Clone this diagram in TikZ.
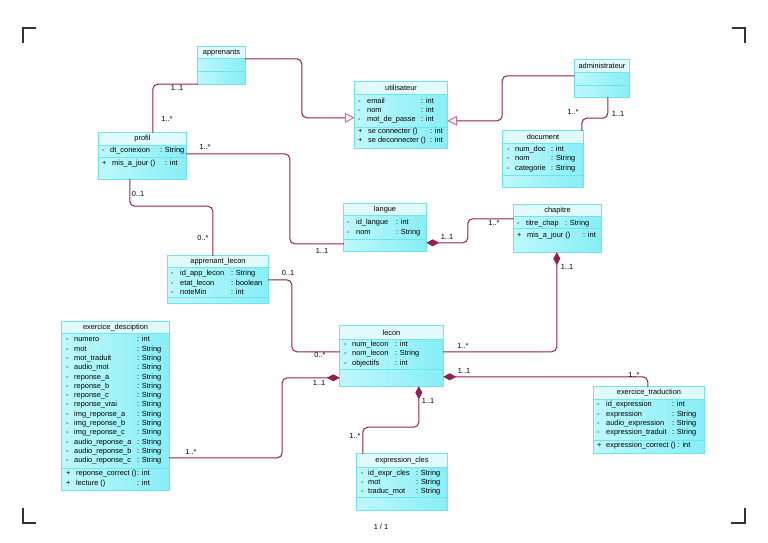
\documentclass[tikz,border=0pt]{standalone}
\usepackage{fontspec}
\setmainfont{Liberation Sans}
\usetikzlibrary{arrows.meta, calc, fit}
\definecolor{classfillA}{RGB}{190,248,251}
\definecolor{classfillB}{RGB}{135,238,246}
\definecolor{titlefill}{RGB}{225,251,253}
\definecolor{classline}{RGB}{110,228,238}
\definecolor{linkcol}{RGB}{150,30,85}
\definecolor{genpink}{RGB}{215,110,150}
\definecolor{cropcol}{RGB}{50,50,50}
\newcommand{\umlfont}{\fontsize{7.4}{9.3}\selectfont}
\newlength\symw
\newlength\namew
\newcommand{\mrow}[3]{\makebox[\symw][l]{#1}\makebox[\namew][l]{#2}#3}
\newcommand{\members}[3]{\setlength\symw{#1}\setlength\namew{#2}\begin{tabular}[t]{@{}l@{}}#3\end{tabular}}
% id, x1, y1, x2, y2, title bottom, attributes bottom, title
\newcommand{\umlclass}[8]{%
  \node[classbody, fit={(#2,#3) (#4,#5)}] (#1) {};
  \fill[titlefill] (#1.north west) rectangle (#4,#6);
  \draw[classsep] (#2,#6) -- (#4,#6) (#2,#7) -- (#4,#7);
  \draw[classline, line width=0.8pt] (#1.north west) rectangle (#1.south east);
  \node[classtitle] (#1-t) at ($(#2,#3)!0.5!(#4,#6)$) {#8};
}
\tikzset{
    classbody/.style={rectangle, inner sep=0pt, left color=classfillA, right color=classfillB},
    classsep/.style={draw=classline, line width=0.6pt},
    classtitle/.style={font=\umlfont, inner sep=0pt},
    memberlist/.style={anchor=base west, inner sep=0pt, font=\umlfont},
    multlabel/.style={font=\umlfont, inner sep=0pt},
    umllink/.style={draw=linkcol, line width=1pt, rounded corners=5pt},
    genarrow/.style={umllink, -{Triangle[open, length=10pt, width=10pt, color=genpink, fill=white]}},
    comparrow/.style={umllink, {Diamond[length=13pt, width=7pt]}-},
    cropmark/.style={draw=cropcol, line width=1.1pt}
}
\begin{document}
\begin{tikzpicture}[x=1pt, y=-1pt]
    \useasboundingbox (0,0) rectangle (768,543);

    % classes
    \umlclass{apprenants}{198}{47}{245}{84}{58}{71}{apprenants}
    \umlclass{utilisateur}{355}{82}{447}{148}{94}{127}{utilisateur}
    \umlclass{administrateur}{575}{60}{629}{97}{72}{85}{administrateur}
    \umlclass{document}{503}{131}{583}{187}{143}{175}{document}
    \umlclass{profil}{99}{133}{186}{179}{145}{157}{profil}
    \umlclass{langue}{344}{204}{426}{251}{215}{239}{langue}
    \umlclass{chapitre}{514}{205}{601}{252}{216}{228}{chapitre}
    \umlclass{apprenantlecon}{168}{256}{268}{303}{267}{297}{apprenant\_lecon}
    \umlclass{lecon}{340}{326}{443}{386}{339}{369}{lecon}
    \umlclass{exdesc}{62}{322}{169}{490}{333}{468}{exercice\_desciption}
    \umlclass{extrad}{594}{387}{704}{453}{399}{440}{exercice\_traduction}
    \umlclass{exprcles}{357}{454}{447}{510}{467}{497}{expression\_cles}

    % attributes and operations
    \node[memberlist] (utilisateur-a) at (358,103.2) {\members{9pt}{54pt}{\mrow{-}{email}{: int}\\ \mrow{-}{nom}{: int}\\ \mrow{-}{mot\_de\_passe}{: int}}};
    \node[memberlist] (utilisateur-o) at (358,133.2) {\members{10pt}{62pt}{\mrow{+}{se connecter ()}{: int}\\ \mrow{+}{se deconnecter ()}{: int}}};
    \node[memberlist] (document-a) at (507,151.5) {\members{8pt}{36pt}{\mrow{-}{num\_doc}{: int}\\ \mrow{-}{nom}{: String}\\ \mrow{-}{categorie}{: String}}};
    \node[memberlist] (profil-a) at (102,152.5) {\members{8pt}{50pt}{\mrow{-}{dt\_conexion}{: String}}};
    \node[memberlist] (profil-o) at (102,165.8) {\members{10pt}{53pt}{\mrow{+}{mis\_a\_jour ()}{: int}}};
    \node[memberlist] (langue-a) at (347,224.8) {\members{9pt}{40pt}{\mrow{-}{id\_langue}{: int}\\ \mrow{-}{nom}{: String}}};
    \node[memberlist] (chapitre-a) at (517,225.8) {\members{9pt}{39pt}{\mrow{-}{titre\_chap}{: String}}};
    \node[memberlist] (chapitre-o) at (517,237.5) {\members{10pt}{56pt}{\mrow{+}{mis\_a\_jour ()}{: int}}};
    \node[memberlist] (apprenantlecon-a) at (171,275.8) {\members{9pt}{51pt}{\mrow{-}{id\_app\_lecon}{: String}\\ \mrow{-}{etat\_lecon}{: boolean}\\ \mrow{-}{noteMin}{: int}}};
    \node[memberlist] (lecon-a) at (344,346.5) {\members{8pt}{43pt}{\mrow{-}{num\_lecon}{: int}\\ \mrow{-}{nom\_lecon}{: String}\\ \mrow{-}{objectifs}{: int}}};
    \node[memberlist] (exdesc-a) at (66,341.8) {\members{8pt}{63pt}{\mrow{-}{numero}{: int}\\ \mrow{-}{mot}{: String}\\ \mrow{-}{mot\_traduit}{: String}\\ \mrow{-}{audio\_mot}{: String}\\ \mrow{-}{reponse\_a}{: String}\\ \mrow{-}{reponse\_b}{: String}\\ \mrow{-}{reponse\_c}{: String}\\ \mrow{-}{reponse\_vrai}{: String}\\ \mrow{-}{img\_reponse\_a}{: String}\\ \mrow{-}{img\_reponse\_b}{: String}\\ \mrow{-}{img\_reponse\_c}{: String}\\ \mrow{-}{audio\_reponse\_a}{: String}\\ \mrow{-}{audio\_reponse\_b}{: String}\\ \mrow{-}{audio\_reponse\_c}{: String}}};
    \node[memberlist] (exdesc-o) at (66,475.8) {\members{10pt}{61pt}{\mrow{+}{reponse\_correct ()}{: int}\\ \mrow{+}{lecture ()}{: int}}};
    \node[memberlist] (extrad-a) at (597,406.8) {\members{9pt}{66pt}{\mrow{-}{id\_expression}{: int}\\ \mrow{-}{expression}{: String}\\ \mrow{-}{audio\_expression}{: String}\\ \mrow{-}{expression\_traduit}{: String}}};
    \node[memberlist] (extrad-o) at (597,447.8) {\members{9pt}{0pt}{\mrow{+}{}{expression\_correct () : int}}};
    \node[memberlist] (exprcles-a) at (361,475.2) {\members{7pt}{48pt}{\mrow{-}{id\_expr\_cles}{: String}\\ \mrow{-}{mot}{: String}\\ \mrow{-}{traduc\_mot}{: String}}};

    % links
    \draw[genarrow] ($(apprenants.north east)+(0,12)$) -| ($(utilisateur.north west)+(-53,36)$) -- ($(utilisateur.north west)+(0,36)$);
    \draw[genarrow] ($(administrateur.north west)+(0,16)$) -| ($(utilisateur.north east)+(55,39)$) -- ($(utilisateur.north east)+(0,39)$);
    \draw[umllink] ($(administrateur.south west)+(33,0)$) -- ++(0,21) -| ($(document.north west)+(79,0)$);
    \draw[umllink] (apprenants.south west) -| ($(profil.north west)+(54,0)$);
    \draw[umllink] ($(profil.north east)+(0,21)$) -| ($(langue.north west)+(-54,40)$) -- ($(langue.north west)+(0,40)$);
    \draw[umllink] ($(profil.south west)+(31,0)$) -- ++(0,27) -| ($(apprenantlecon.north west)+(45,0)$);
    \draw[umllink] ($(apprenantlecon.north east)+(0,24)$) -| ($(lecon.north west)+(-48,26)$) -- ($(lecon.north west)+(0,26)$);
    \draw[comparrow] ($(langue.north east)+(0,39)$) -| ($(chapitre.north west)+(-46,14)$) -- ($(chapitre.north west)+(0,14)$);
    \draw[comparrow] ($(chapitre.south west)+(43,0)$) |- ($(lecon.north east)+(0,26)$);
    \draw[comparrow] ($(lecon.north west)+(0,52)$) -| ($(exdesc.north east)+(113,136)$) -- ($(exdesc.north east)+(0,136)$);
    \draw[comparrow] ($(lecon.north east)+(0,51)$) -| ($(extrad.north west)+(54,0)$);
    \draw[comparrow] ($(lecon.south west)+(79,0)$) -- ++(0,41) -| ($(exprcles.north west)+(6,0)$);

    % multiplicities
    \node[multlabel] (m1) at (573,112) {1..*};
    \node[multlabel] (m2) at (618,114) {1..1};
    \node[multlabel] (m3) at (177,88) {1..1};
    \node[multlabel] (m4) at (167,119) {1..*};
    \node[multlabel] (m5) at (205,147) {1..*};
    \node[multlabel] (m6) at (322,251) {1..1};
    \node[multlabel] (m7) at (138,194) {0..1};
    \node[multlabel] (m8) at (203,238) {0..*};
    \node[multlabel] (m9) at (288,273) {0..1};
    \node[multlabel] (m10) at (320,355) {0..*};
    \node[multlabel] (m11) at (447,237) {1..1};
    \node[multlabel] (m12) at (494,223) {1..*};
    \node[multlabel] (m13) at (567,267) {1..1};
    \node[multlabel] (m14) at (463,346) {1..*};
    \node[multlabel] (m15) at (319,383) {1..1};
    \node[multlabel] (m16) at (191,452) {1..*};
    \node[multlabel] (m17) at (464,371) {1..1};
    \node[multlabel] (m18) at (634,375) {1..*};
    \node[multlabel] (m19) at (428,401) {1..1};
    \node[multlabel] (m20) at (355,436) {1..*};

    % page frame
    \draw[cropmark] (23,43) -- (23,28) -- (36,28);
    \draw[cropmark] (732,28) -- (745,28) -- (745,43);
    \draw[cropmark] (23,508) -- (23,523) -- (36,523);
    \draw[cropmark] (731,523) -- (745,523) -- (745,508);
    \node[multlabel] (pagenum) at (381,527) {1 / 1};
\end{tikzpicture}
\end{document}
